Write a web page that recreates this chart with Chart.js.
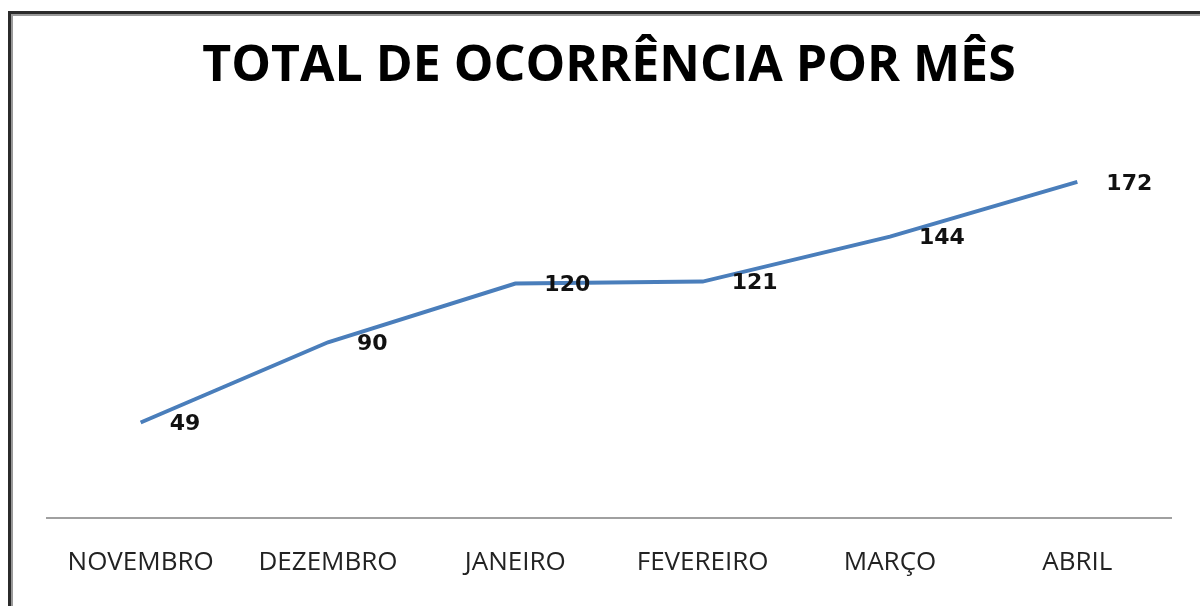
<!DOCTYPE html>
<html>
<head>
<meta charset="utf-8">
<script src="https://cdn.jsdelivr.net/npm/chart.js@4"></script>
<style>
  body { margin: 0; background: #fff; }
  #wrap { position: relative; width: 1200px; height: 606px; overflow: hidden; }
  #frame { position: absolute; left: 8px; top: 11px; right: -10px; bottom: -10px;
           border-left: 3px solid #2b2b2b; border-top: 3px solid #2b2b2b;
           box-shadow: inset 2px 2px 0 #9a9a9a; pointer-events: none; }
  canvas { position: absolute; left: 0; top: 0; }
</style>
</head>
<body>
<div id="wrap">
  <canvas id="myChart" width="1200" height="606"></canvas>
  <div id="frame"></div>
</div>
<script>
var meses = ['NOVEMBRO', 'DEZEMBRO', 'JANEIRO', 'FEVEREIRO', 'MARÇO', 'ABRIL'];
var ocorrencias = [49, 90, 120, 121, 144, 172];
var titulo = 'TOTAL DE OCORRÊNCIA POR MÊS';

// rotulos de valor ao lado de cada ponto
var rotulos = {
  id: 'rotulos',
  afterDatasetsDraw: function(chart) {
    var ctx = chart.ctx;
    var meta = chart.getDatasetMeta(0);
    ctx.save();
    ctx.font = 'bold 22px "DejaVu Sans"';
    ctx.fillStyle = '#111';
    ctx.textAlign = 'left';
    ctx.textBaseline = 'middle';
    meta.data.forEach(function(pt, i) {
      ctx.fillText(String(ocorrencias[i]), pt.x + 29, pt.y + 2);
    });
    ctx.restore();
  }
};

const ctx = document.getElementById('myChart');
var chart = new Chart(ctx, {
  type: 'line',
  data: {
    labels: meses,
    datasets: [{
      data: ocorrencias,
      borderColor: '#4a7ebb',
      borderWidth: 4,
      pointRadius: 0,
      tension: 0
    }]
  },
  options: {
    responsive: false,
    animation: false,
    layout: { padding: { left: 47, right: 29, top: 0, bottom: -1 } },
    plugins: {
      legend: { display: false },
      tooltip: { enabled: false },
      title: {
        display: true,
        text: titulo,
        color: '#000',
        font: { family: '"Open Sans"', size: 50, weight: 'bold', lineHeight: 1.2 },
        padding: { top: 37, bottom: 30 }
      }
    },
    scales: {
      x: {
        offset: true,
        grid: { display: false, drawTicks: false },
        border: { display: true, color: '#a0a0a0', width: 2 },
        ticks: { color: '#222', padding: 30, font: { family: '"Open Sans"', size: 26, lineHeight: 1.1 } }
      },
      y: {
        display: false,
        min: 0,
        max: 200
      }
    }
  },
  plugins: [rotulos]
});
</script>
</body>
</html>
